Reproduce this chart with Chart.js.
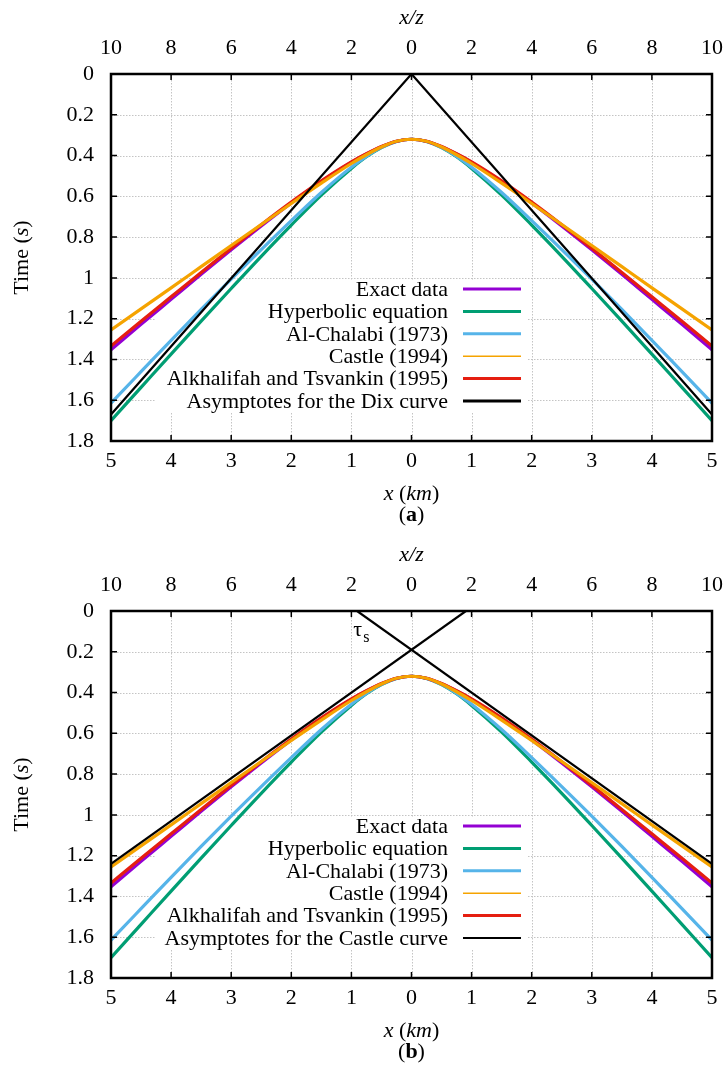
<!DOCTYPE html>
<html>
<head>
<meta charset="utf-8">
<script src="https://cdn.jsdelivr.net/npm/chart.js@4.4.1/dist/chart.umd.min.js"></script>
<style>
  html, body { margin: 0; padding: 0; background: #fff; }
  body { width: 728px; height: 1069px; position: relative; overflow: hidden; }
  .panel { position: absolute; left: 0; width: 728px; height: 532px; }
</style>
</head>
<body>
<div class="panel" style="top:0"><canvas id="chartA" width="728" height="532"></canvas></div>
<div class="panel" style="top:537px"><canvas id="chartB" width="728" height="532"></canvas></div>
<script>
// offsets x (km) and travel times (s)
const offsets = [-5, -4.5, -4, -3.5, -3, -2.5, -2, -1.5, -1, -0.75, -0.5, -0.25, 0, 0.25, 0.5, 0.75, 1, 1.5, 2, 2.5, 3, 3.5, 4, 4.5, 5];
const exactData  = [1.352, 1.228, 1.105, 0.982, 0.862, 0.745, 0.632, 0.527, 0.433, 0.392, 0.357, 0.330, 0.32, 0.330, 0.357, 0.392, 0.433, 0.527, 0.632, 0.745, 0.862, 0.982, 1.105, 1.228, 1.352];
const hyperbolic = [1.700, 1.537, 1.374, 1.212, 1.052, 0.894, 0.741, 0.594, 0.463, 0.406, 0.361, 0.331, 0.32, 0.331, 0.361, 0.406, 0.463, 0.594, 0.741, 0.894, 1.052, 1.212, 1.374, 1.537, 1.700];
const alChalabi  = [1.614, 1.460, 1.306, 1.155, 1.006, 0.861, 0.719, 0.581, 0.457, 0.404, 0.360, 0.331, 0.32, 0.331, 0.360, 0.404, 0.457, 0.581, 0.719, 0.861, 1.006, 1.155, 1.306, 1.460, 1.614];
const castle     = [1.255, 1.152, 1.049, 0.945, 0.841, 0.738, 0.635, 0.535, 0.439, 0.396, 0.358, 0.330, 0.32, 0.330, 0.358, 0.396, 0.439, 0.535, 0.635, 0.738, 0.841, 0.945, 1.049, 1.152, 1.255];
const alkhalifah = [1.334, 1.213, 1.093, 0.973, 0.855, 0.739, 0.628, 0.524, 0.431, 0.391, 0.356, 0.330, 0.32, 0.330, 0.356, 0.391, 0.431, 0.524, 0.628, 0.739, 0.855, 0.973, 1.093, 1.213, 1.334];

// asymptotes
const dixX = [-5, 0, 5];
const dixT = [1.67, 0, 1.67];
const castleAsymLeftX = [-5, 0.905];
const castleAsymLeftT = [1.24, 0];
const castleAsymRightX = [-0.905, 5];
const castleAsymRightT = [0, 1.24];

// axes
const kmTicks = [-5, -4, -3, -2, -1, 0, 1, 2, 3, 4, 5];
const kmTickLabels = ['5', '4', '3', '2', '1', '0', '1', '2', '3', '4', '5'];
const xzTickLabels = ['10', '8', '6', '4', '2', '0', '2', '4', '6', '8', '10'];
const timeTicks = [0, 0.2, 0.4, 0.6, 0.8, 1, 1.2, 1.4, 1.6, 1.8];
const timeTickLabels = ['0', '0.2', '0.4', '0.6', '0.8', '1', '1.2', '1.4', '1.6', '1.8'];

const curveLabels = ['Exact data', 'Hyperbolic equation', 'Al-Chalabi (1973)', 'Castle (1994)', 'Alkhalifah and Tsvankin (1995)'];

const SERIF = '"Liberation Serif", "DejaVu Serif", serif';
const FS = 22;

function pts(xs, ys) {
  return xs.map((x, i) => ({ x: x, y: ys[i] }));
}

function curveSets() {
  return [
    { label: curveLabels[0], data: pts(offsets, exactData),  borderColor: '#9400d3', keyWidth: 3, order: 3 },
    { label: curveLabels[1], data: pts(offsets, hyperbolic), borderColor: '#009e73', keyWidth: 3, order: 5 },
    { label: curveLabels[2], data: pts(offsets, alChalabi),  borderColor: '#56b4e9', keyWidth: 3, order: 4 },
    { label: curveLabels[3], data: pts(offsets, castle),     borderColor: '#f5a300', keyWidth: 1.5, order: 1 },
    { label: curveLabels[4], data: pts(offsets, alkhalifah), borderColor: '#e51e10', keyWidth: 3, order: 2 }
  ].map(d => Object.assign(d, { borderWidth: 3.2, pointRadius: 0, fill: false, cubicInterpolationMode: 'monotone' }));
}

function richText(ctx, parts, x, y, align) {
  let w = 0;
  parts.forEach(p => { ctx.font = p[1]; w += ctx.measureText(p[0]).width; });
  let cx = align === 'center' ? x - w / 2 : x;
  ctx.textAlign = 'left';
  parts.forEach(p => { ctx.font = p[1]; ctx.fillText(p[0], cx, y); cx += ctx.measureText(p[0]).width; });
}

const figurePlugin = {
  id: 'figure',
  beforeDatasetsDraw(chart) {
    const { ctx, chartArea: a, scales } = chart;
    const x = scales.x, y = scales.y;
    ctx.save();
    // dotted grid
    ctx.strokeStyle = '#c4c4c4';
    ctx.lineWidth = 1;
    ctx.setLineDash([1.5, 1.5]);
    ctx.beginPath();
    x.ticks.forEach(t => {
      const px = Math.round(x.getPixelForValue(t.value)) + 0.5;
      if (px < a.left + 2 || px > a.right - 2) return;
      ctx.moveTo(px, a.top); ctx.lineTo(px, a.bottom);
    });
    y.ticks.forEach(t => {
      const py = Math.round(y.getPixelForValue(t.value)) + 0.5;
      if (py < a.top + 2 || py > a.bottom - 2) return;
      ctx.moveTo(a.left, py); ctx.lineTo(a.right, py);
    });
    ctx.stroke();
    ctx.setLineDash([]);
    // opaque key box
    ctx.fillStyle = '#fff';
    ctx.fillRect(156, 281, 372, 131);
    ctx.restore();
  },
  afterDatasetsDraw(chart) {
    const { ctx, chartArea: a, scales } = chart;
    const x = scales.x, y = scales.y;
    const opts = chart.options.plugins.figure;
    ctx.save();
    // frame
    ctx.strokeStyle = '#000';
    ctx.lineWidth = 2.5;
    ctx.strokeRect(a.left, a.top, a.right - a.left, a.bottom - a.top);
    // inward ticks
    ctx.lineWidth = 1.5;
    ctx.beginPath();
    x.ticks.forEach(t => {
      const px = x.getPixelForValue(t.value);
      ctx.moveTo(px, a.bottom); ctx.lineTo(px, a.bottom - 6);
      ctx.moveTo(px, a.top); ctx.lineTo(px, a.top + 6);
    });
    y.ticks.forEach(t => {
      const py = y.getPixelForValue(t.value);
      ctx.moveTo(a.left, py); ctx.lineTo(a.left + 6, py);
      ctx.moveTo(a.right, py); ctx.lineTo(a.right - 6, py);
    });
    ctx.stroke();

    // key
    ctx.fillStyle = '#000';
    ctx.textBaseline = 'middle';
    chart.data.datasets.forEach((d, i) => {
      if (!d.label) return;
      const ry = 289 + i * 22.4;
      ctx.font = FS + 'px ' + SERIF;
      ctx.textAlign = 'right';
      ctx.fillText(d.label, 448, ry + 1);
      ctx.strokeStyle = d.borderColor;
      ctx.lineWidth = d.keyWidth;
      ctx.beginPath();
      ctx.moveTo(463, ry); ctx.lineTo(521, ry);
      ctx.stroke();
    });

    // axis titles
    const mid = (a.left + a.right) / 2;
    const it = 'italic ' + FS + 'px ' + SERIF;
    const rm = FS + 'px ' + SERIF;
    ctx.textBaseline = 'middle';
    richText(ctx, [['x/z', it]], mid, 18, 'center');
    richText(ctx, [['x', it], [' (', rm], ['km', it], [')', rm]], mid, 494, 'center');
    richText(ctx, [['(', rm], [opts.tag, 'bold ' + FS + 'px ' + SERIF], [')', rm]], mid, 515, 'center');
    ctx.save();
    ctx.translate(22, (a.top + a.bottom) / 2);
    ctx.rotate(-Math.PI / 2);
    richText(ctx, [['Time (', rm], ['s', it], [')', rm]], 0, 0, 'center');
    ctx.restore();

    if (opts.tau) {
      ctx.textBaseline = 'alphabetic';
      const tx = x.getPixelForValue(-0.97);
      ctx.font = FS + 'px ' + SERIF;
      ctx.textAlign = 'left';
      ctx.fillText('\u03c4', tx, 99);
      ctx.font = '16px ' + SERIF;
      ctx.fillText('s', tx + 10, 105);
    }
    ctx.restore();
  }
};

function makeChart(id, asymSets, tag, tau) {
  const tickFont = { family: SERIF, size: FS };
  return new Chart(document.getElementById(id), {
    type: 'line',
    data: { datasets: curveSets().concat(asymSets) },
    options: {
      responsive: false,
      animation: false,
      layout: { padding: { left: 0, right: 16, top: 0, bottom: 0 } },
      plugins: {
        legend: { display: false },
        tooltip: { enabled: false },
        figure: { tag: tag, tau: tau }
      },
      scales: {
        x: {
          type: 'linear', position: 'bottom', min: -5, max: 5,
          afterBuildTicks: s => { s.ticks = kmTicks.map(v => ({ value: v })); },
          afterFit: s => { s.height = 91; },
          grid: { display: false }, border: { display: false },
          ticks: { font: tickFont, color: '#000', padding: -1, maxRotation: 0, autoSkip: false,
                   callback: (v, i) => kmTickLabels[i] }
        },
        x2: {
          type: 'linear', position: 'top', min: -5, max: 5,
          afterBuildTicks: s => { s.ticks = kmTicks.map(v => ({ value: v })); },
          afterFit: s => { s.height = 74; },
          grid: { display: false }, border: { display: false },
          ticks: { font: tickFont, color: '#000', padding: 5, maxRotation: 0, autoSkip: false,
                   callback: (v, i) => xzTickLabels[i] }
        },
        y: {
          type: 'linear', reverse: true, min: 0, max: 1.8,
          afterBuildTicks: s => { s.ticks = timeTicks.map(v => ({ value: v })); },
          afterFit: s => { s.width = 111; },
          grid: { display: false }, border: { display: false },
          ticks: { font: tickFont, color: '#000', padding: 9, autoSkip: false,
                   callback: (v, i) => timeTickLabels[i] }
        }
      }
    },
    plugins: [figurePlugin]
  });
}

const lineStyle = { borderColor: '#000', borderWidth: 2.2, pointRadius: 0, fill: false, tension: 0, order: 0 };

makeChart('chartA', [
  Object.assign({ label: 'Asymptotes for the Dix curve', data: pts(dixX, dixT), keyWidth: 3 }, lineStyle)
], 'a', false);

makeChart('chartB', [
  Object.assign({ label: 'Asymptotes for the Castle curve', data: pts(castleAsymLeftX, castleAsymLeftT), keyWidth: 2 }, lineStyle),
  Object.assign({ label: '', data: pts(castleAsymRightX, castleAsymRightT), keyWidth: 2 }, lineStyle)
], 'b', true);
</script>
</body>
</html>
